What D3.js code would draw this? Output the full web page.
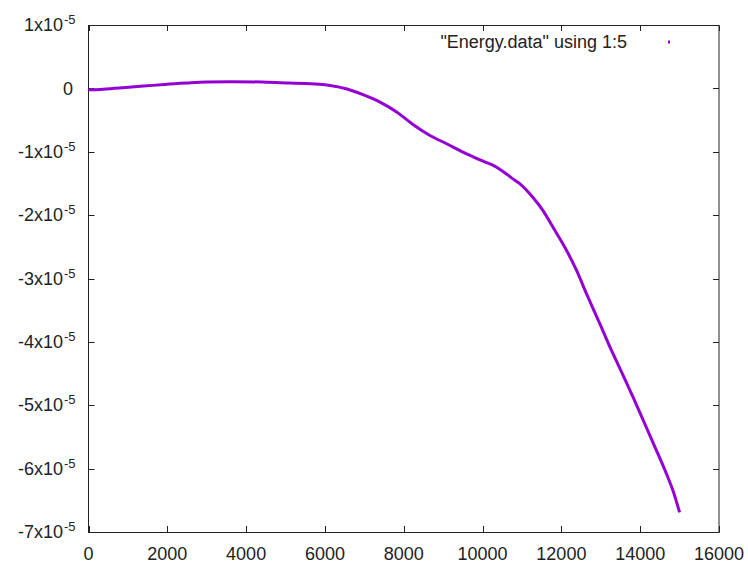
<!DOCTYPE html>
<html>
<head>
<meta charset="utf-8">
<script src="https://cdn.jsdelivr.net/npm/d3@7"></script>
<style>
  html, body { margin: 0; padding: 0; background: #fff; }
  text { font-family: "Liberation Sans", Arial, sans-serif; fill: #222; }
</style>
</head>
<body>
<svg id="chart" width="748" height="563"></svg>
<script>
// ---- data (x = step, energy in units of 1e-5) ----
const steps = [0, 300, 860, 1400, 1940, 2490, 3000, 3630, 4400, 5080, 5500, 5940, 6130, 6560, 6966, 7397, 7828, 8234, 8665, 9090, 9504, 9935, 10358, 10519, 10772, 10950, 11280, 11534, 11788, 12135, 12388, 12642, 12980, 13277, 13404, 13825, 14079, 14333, 14672, 14850, 15000];
const energyE5 = [-0.02, -0.016, 0.011, 0.036, 0.063, 0.084, 0.1, 0.106, 0.1, 0.084, 0.078, 0.06, 0.045, -0.01, -0.1, -0.217, -0.375, -0.57, -0.743, -0.874, -1.007, -1.13, -1.244, -1.31, -1.428, -1.507, -1.723, -1.929, -2.193, -2.561, -2.877, -3.246, -3.72, -4.142, -4.31, -4.881, -5.24, -5.60, -6.09, -6.38, -6.69];
const xTicks = [0, 2000, 4000, 6000, 8000, 10000, 12000, 14000, 16000];
const yTicks = [1, 0, -1, -2, -3, -4, -5, -6, -7];
const yTickMantissa = ["1x10", "0", "-1x10", "-2x10", "-3x10", "-4x10", "-5x10", "-6x10", "-7x10"];
const legendLabel = "\"Energy.data\" using 1:5";

(function () {
const svg = d3.select("#chart");
const pL = 88.5, pR = 719, pT = 25, pB = 532;
const x = d3.scaleLinear().domain([0, 16000]).range([pL, pR]);
const y = d3.scaleLinear().domain([-7, 1]).range([pB, pT]);
const color = "#9400d3";
const axisColor = "#222";

// border
svg.append("rect").attr("x", pL).attr("y", pT + 0.5)
  .attr("width", pR - pL).attr("height", pB - pT)
  .attr("fill", "none").attr("stroke", axisColor).attr("stroke-width", 1);

// x ticks (bottom + mirrored top), inward
const xt = svg.append("g");
xTicks.forEach(v => {
  const px = Math.round(x(v)) + 0.5;
  xt.append("line").attr("x1", px).attr("x2", px).attr("y1", pB + 0.5).attr("y2", pB - 6)
    .attr("stroke", axisColor);
  xt.append("line").attr("x1", px).attr("x2", px).attr("y1", pT + 0.5).attr("y2", pT + 6)
    .attr("stroke", axisColor);
  xt.append("text").attr("x", x(v)).attr("y", 560).attr("text-anchor", "middle")
    .attr("font-size", 18).text(v);
});

// y ticks (left + mirrored right), inward
const yt = svg.append("g");
yTicks.forEach((v, i) => {
  const py = Math.round(y(v)) + 0.5;
  yt.append("line").attr("x1", pL).attr("x2", pL + 6).attr("y1", py).attr("y2", py)
    .attr("stroke", axisColor);
  yt.append("line").attr("x1", pR).attr("x2", pR - 6).attr("y1", py).attr("y2", py)
    .attr("stroke", axisColor);
  if (v === 0) {
    yt.append("text").attr("x", 73).attr("y", y(v) + 6.5).attr("text-anchor", "end")
      .attr("font-size", 18).text(yTickMantissa[i]);
  } else {
    yt.append("text").attr("x", 63).attr("y", y(v) + 6).attr("text-anchor", "end")
      .attr("font-size", 18).text(yTickMantissa[i]);
    yt.append("text").attr("x", 64).attr("y", y(v) - 1).attr("text-anchor", "start")
      .attr("font-size", 13).text("-5");
  }
});

// data line
const line = d3.line().x((d, i) => x(steps[i])).y(d => y(d)).curve(d3.curveMonotoneX);
svg.append("path").datum(energyE5).attr("d", line)
  .attr("fill", "none").attr("stroke", color).attr("stroke-width", 3)
  .attr("stroke-linejoin", "round");

// legend
svg.append("text").attr("x", 627).attr("y", 47.5).attr("text-anchor", "end")
  .attr("font-size", 18).text(legendLabel);
svg.append("rect").attr("x", 668).attr("y", 40.5).attr("width", 2).attr("height", 3).attr("fill", color);
})();
</script>
</body>
</html>
